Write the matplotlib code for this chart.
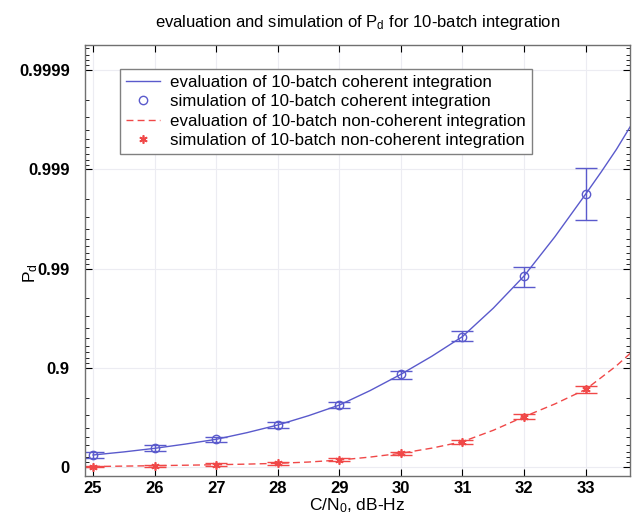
import numpy as np
import matplotlib
matplotlib.use("Agg")
import matplotlib.pyplot as plt
from matplotlib.ticker import FixedLocator, NullFormatter, LogLocator

# ---- data (P_d values) ----
snr_sim = [25, 26, 27, 28, 29, 30, 31, 32, 33]
pd_coh_sim = [0.2432, 0.3514, 0.4740, 0.6224, 0.7623, 0.8836, 0.9515, 0.9881, 0.99822]
pd_coh_lo = [0.189, 0.3098, 0.4402, 0.5954, 0.7436, 0.8694, 0.9467, 0.9848, 0.99676]
pd_coh_hi = [0.2937, 0.3933, 0.5068, 0.6476, 0.7802, 0.8928, 0.9576, 0.9904, 0.99903]
pd_nc_sim = [0.0115, 0.0295, 0.0516, 0.0817, 0.1489, 0.2722, 0.4441, 0.6888, 0.8348]
pd_nc_lo = [-0.0115, 0.0, 0.0230, 0.0563, 0.120, 0.2432, 0.4139, 0.6696, 0.8193]
pd_nc_hi = [0.0342, 0.0563, 0.0780, 0.1097, 0.179, 0.3016, 0.4716, 0.7076, 0.8483]

snr_eval = [25, 25.5, 26, 26.5, 27, 27.5, 28, 28.5, 29, 29.5, 30, 30.5, 31, 31.5,
            32, 32.5, 33, 33.25, 33.5, 33.75]
pd_coh_eval = [0.2432, 0.2953, 0.3514, 0.4125, 0.4740, 0.5492, 0.6224, 0.6959,
               0.7623, 0.8302, 0.8836, 0.9233, 0.9515, 0.9749, 0.9881, 0.99521,
               0.99822, 0.99893, 0.99937, 0.99965]
pd_nc_eval = [0.0115, 0.0205, 0.0295, 0.0406, 0.0516, 0.0646, 0.0817, 0.1087,
              0.1489, 0.2057, 0.2722, 0.3543, 0.4441, 0.5734, 0.6888, 0.7683,
              0.8348, 0.8741, 0.9045, 0.9308]

ytick_vals = [0, 0.9, 0.99, 0.999, 0.9999]
ytick_labels = ["0", "0.9", "0.99", "0.999", "0.9999"]
xticks = [25, 26, 27, 28, 29, 30, 31, 32, 33]

BLUE = "#5a5acc"
RED = "#f04848"

plt.rcParams["font.family"] = ["Liberation Sans", "DejaVu Sans"]
plt.rcParams["mathtext.fontset"] = "custom"
plt.rcParams["mathtext.rm"] = "Liberation Sans"
plt.rcParams["mathtext.it"] = "Liberation Sans"

fig = plt.figure(figsize=(6.33, 5.15), dpi=100)
ax = fig.add_axes([85 / 633, 39 / 515, 545 / 633, 431 / 515])


def q(p):
    return 1.0 - np.asarray(p, dtype=float)


# evaluation curves
ax.plot(snr_eval, q(pd_coh_eval), color=BLUE, lw=1.0,
        label="evaluation of 10-batch coherent integration")
ax.plot(snr_sim, q(pd_coh_sim), ls="none", marker="o", ms=6, mfc="none",
        mec=BLUE, mew=1.0, label="simulation of 10-batch coherent integration")
ax.plot(snr_eval, q(pd_nc_eval), color=RED, lw=1.0, ls=(0, (5, 3)),
        label="evaluation of 10-batch non-coherent integration")
ax.plot(snr_sim, q(pd_nc_sim), ls="none", marker=(6, 2, 0), ms=6, mew=1.2,
        color=RED, label="simulation of 10-batch non-coherent integration")

# error bars
qc = q(pd_coh_sim)
ax.errorbar(snr_sim, qc, yerr=[qc - q(pd_coh_hi), q(pd_coh_lo) - qc],
            fmt="none", ecolor=BLUE, elinewidth=1.0, capsize=8, capthick=1.0)
qn = q(pd_nc_sim)
ax.errorbar(snr_sim, qn, yerr=[qn - q(pd_nc_hi), q(pd_nc_lo) - qn],
            fmt="none", ecolor=RED, elinewidth=1.0, capsize=8, capthick=1.0)

ax.set_yscale("log")
ax.set_ylim(10 ** (9 / 99.25), 10 ** (-4 - 25 / 99.25))
ax.set_xlim(24.87, 33.72)

ax.yaxis.set_major_locator(FixedLocator(q(ytick_vals)))
ax.set_yticklabels(ytick_labels)
ax.yaxis.set_minor_locator(LogLocator(base=10, subs=np.arange(2, 10)))
ax.yaxis.set_minor_formatter(NullFormatter())
ax.set_xticks(xticks)
ax.set_xticklabels([str(v) for v in xticks])

ax.tick_params(which="both", direction="in", top=True, right=True)
ax.tick_params(which="major", length=5, width=0.8, labelsize=12)
ax.tick_params(axis="y", which="major", pad=11)
ax.tick_params(which="minor", length=3, width=0.6)
for lab in ax.get_xticklabels() + ax.get_yticklabels():
    lab.set_fontweight("bold")

ax.grid(True, which="major", color="#ececf2", lw=0.8)
ax.set_axisbelow(True)
for s in ax.spines.values():
    s.set_color("#707070")
    s.set_linewidth(1.0)

ax.set_title(r"evaluation and simulation of P$_\mathrm{d}$ for 10-batch integration",
             fontsize=12, pad=13)
ax.set_xlabel(r"C/N$_\mathrm{0}$, dB-Hz", fontsize=12.5, labelpad=0)
ax.set_ylabel(r"P$_\mathrm{d}$", fontsize=12.5)
ax.yaxis.set_label_coords(-0.083, 0.47)

leg = ax.legend(loc="upper left", bbox_to_anchor=(0.064, 0.944), borderaxespad=0,
                fontsize=12.2, fancybox=False, framealpha=1, edgecolor="#808080",
                handlelength=2.0, handletextpad=0.6, labelspacing=0.25,
                borderpad=0.35)
leg.get_frame().set_linewidth(1.0)

fig.savefig("out.png", dpi=100)
